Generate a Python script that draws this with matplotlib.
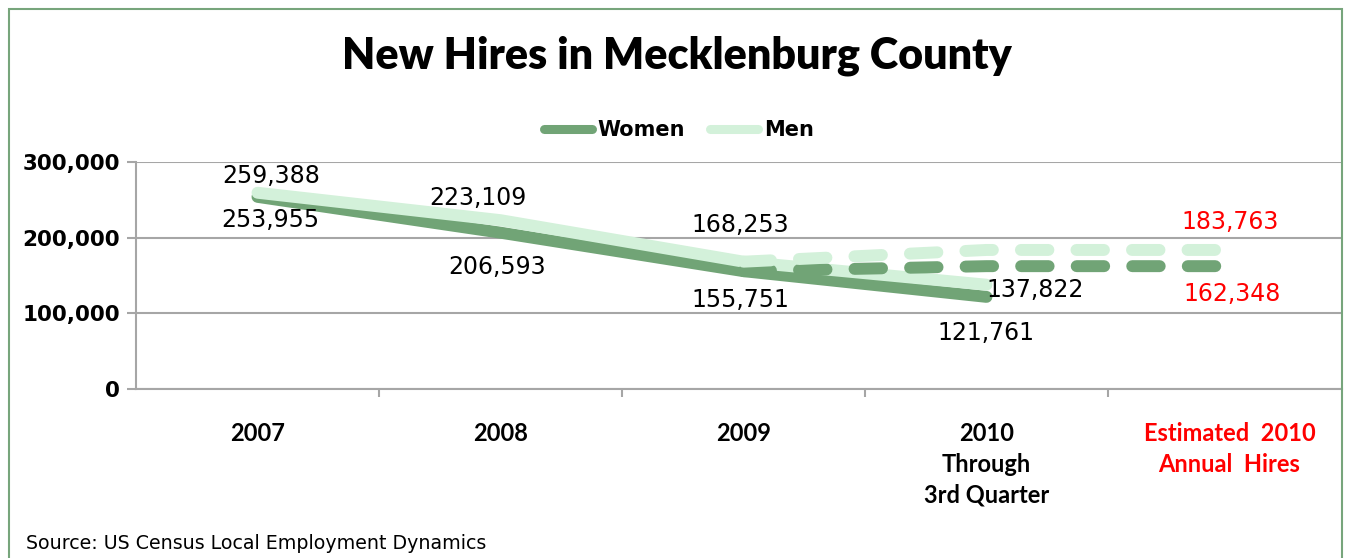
import numpy as np
import matplotlib
matplotlib.use("Agg")
import matplotlib.pyplot as plt
from matplotlib.lines import Line2D
from matplotlib.patches import Rectangle

# ---- data ----
categories = ["2007", "2008", "2009", "2010\nThrough\n3rd Quarter", "Estimated  2010\nAnnual  Hires"]
women = [253955, 206593, 155751, 121761]
men = [259388, 223109, 168253, 137822]
women_est = [np.nan, np.nan, 155751, 162348, 162348]
men_est = [np.nan, np.nan, 168253, 183763, 183763]
yticks = [0, 100000, 200000, 300000]

W, H = 1347, 558
fig = plt.figure(figsize=(W / 100, H / 100), dpi=100)
ax = fig.add_axes([136 / W, (H - 389) / H, (1342 - 136) / W, (389 - 162) / H])

c_women = "#71A476"
c_men = "#D3F1DA"
grid_c = "#A6A6A6"
lw = 8.6

x_all = np.arange(len(categories))
ax.plot(x_all[:len(women)], women, color=c_women, lw=lw, solid_capstyle="round", zorder=3)
ax.plot(x_all[:len(men)], men, color=c_men, lw=lw, solid_capstyle="round", zorder=4)
ax.plot(x_all, women_est, color=c_women, lw=lw, dash_capstyle="round", dashes=(2.3, 2.35), zorder=5)
ax.plot(x_all, men_est, color=c_men, lw=lw, dash_capstyle="round", dashes=(2.3, 2.35), zorder=6)

lab_font = dict(family="DejaVu Sans", fontsize=17)
# label offsets in pixels (dx, dy)
men_off = [(14, 17), (-23, 22), (-3, 37), (49, -5)]
women_off = [(13, -23), (-3, -34), (-3, -29), (-1, -36)]
for i, v in enumerate(men):
    ax.annotate(f"{v:,}", (x_all[i], v), xytext=men_off[i], textcoords="offset pixels",
                ha="center", va="center", color="black", zorder=10, **lab_font)
for i, v in enumerate(women):
    ax.annotate(f"{v:,}", (x_all[i], v), xytext=women_off[i], textcoords="offset pixels",
                ha="center", va="center", color="black", zorder=10, **lab_font)
ax.annotate(f"{men_est[-1]:,}", (x_all[-1], men_est[-1]), xytext=(1, 28), textcoords="offset pixels",
            ha="center", va="center", color="#FF0000", zorder=10, **lab_font)
ax.annotate(f"{women_est[-1]:,}", (x_all[-1], women_est[-1]), xytext=(3, -28), textcoords="offset pixels",
            ha="center", va="center", color="#FF0000", zorder=10, **lab_font)

ax.set_xlim(-0.5, 4.463)
ax.set_ylim(0, 300000)
ax.set_yticks(yticks)
ax.set_yticklabels([f"{t:,}" for t in yticks], family="DejaVu Sans", fontweight="bold", fontsize=15.5)
ax.yaxis.grid(True, color=grid_c, lw=1.5)
ax.set_axisbelow(True)
for s in ["top", "right"]:
    ax.spines[s].set_visible(False)
for s in ["left", "bottom"]:
    ax.spines[s].set_color(grid_c)
    ax.spines[s].set_linewidth(1.5)
ax.tick_params(axis="y", length=6.5, width=1.5, color=grid_c, pad=5)

ax.set_xticks(x_all)
ax.set_xticklabels(categories, family="Lato", fontweight="bold", fontsize=17, linespacing=1.4)
ax.set_xticks([0.5, 1.5, 2.5, 3.5], minor=True)
ax.tick_params(axis="x", which="major", length=0, pad=24)
ax.tick_params(axis="x", which="minor", length=6, width=1.5, color=grid_c)
ax.get_xticklabels()[-1].set_color("#FF0000")

# title
fig.text(677 / W, (H - 69) / H, "New Hires in Mecklenburg County", ha="center", va="baseline",
         family="Lato", fontweight="heavy", fontsize=31)

# legend
handles = [Line2D([], [], color=c_women, lw=6.5, solid_capstyle="round"),
           Line2D([], [], color=c_men, lw=6.5, solid_capstyle="round")]
fig.legend(handles, ["Women", "Men"], loc="center", bbox_to_anchor=(679 / W, (H - 130) / H),
           ncol=2, frameon=False, handlelength=2.3, handletextpad=0.3, columnspacing=1.2,
           prop=dict(family="DejaVu Sans", weight="bold", size=15))

# source
fig.text(26 / W, (H - 549) / H, "Source: US Census Local Employment Dynamics", ha="left", va="baseline",
         family="DejaVu Sans", fontsize=13.7)

# border
fig.patches.append(Rectangle((9 / W, -0.1), (1342 - 9) / W, (H - 9) / H + 0.1, transform=fig.transFigure,
                             fill=False, edgecolor="#77A57C", lw=1.5))

fig.savefig("out.png", dpi=100)
